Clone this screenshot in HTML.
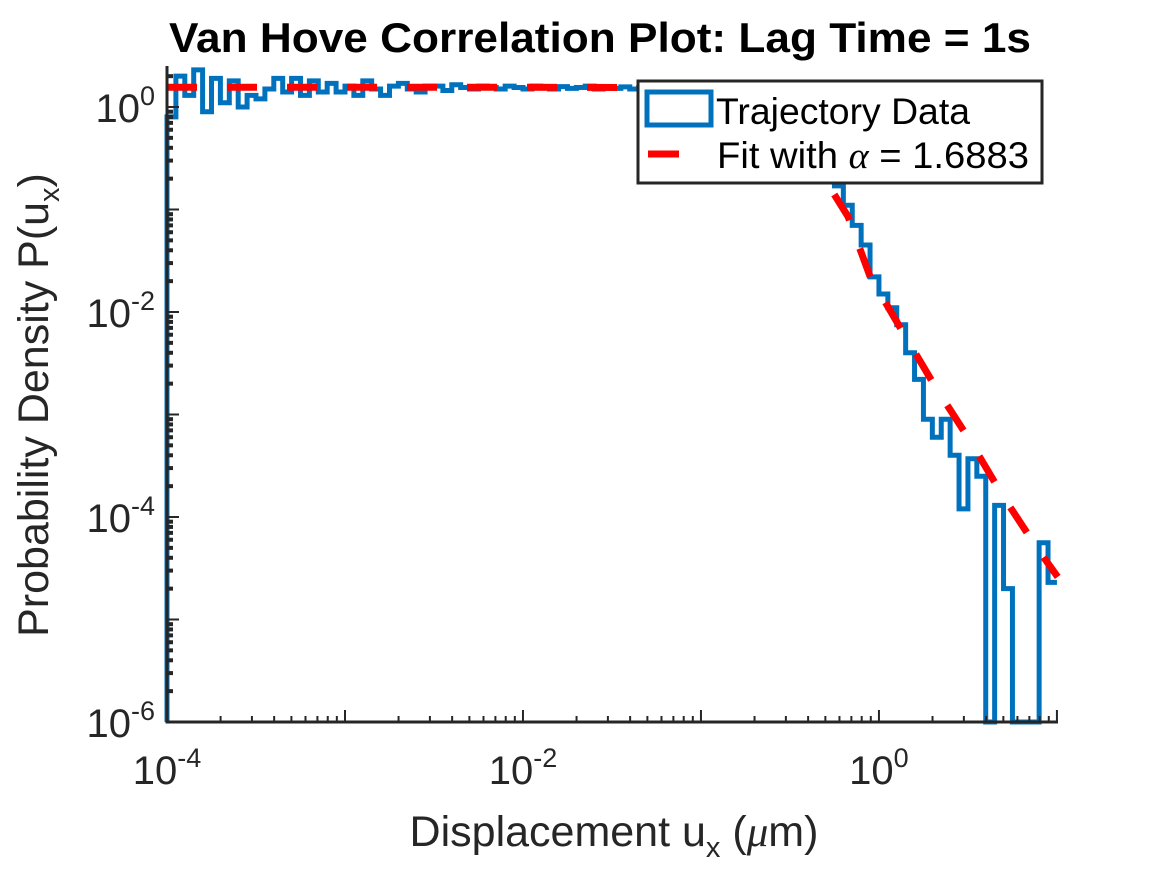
<!DOCTYPE html>
<html><head><meta charset="utf-8"><style>
html,body{margin:0;padding:0;background:#fff;}
svg{display:block;font-family:"Liberation Sans",Arial,sans-serif;}
</style></head><body>
<svg id="chart" width="1167" height="875" viewBox="0 0 1167 875">
<text x="600" y="52" text-anchor="middle" font-size="42" font-weight="bold" fill="#000" textLength="862" lengthAdjust="spacingAndGlyphs">Van Hove Correlation Plot: Lag Time = 1s</text>
<g id="plot"></g>
<g id="axes"></g>
<text x="614" y="846" text-anchor="middle" font-size="43" fill="#262626">Displacement u<tspan font-size="29" dy="11">x</tspan><tspan dy="-11"> (</tspan><tspan font-family="Liberation Serif" font-style="italic">μ</tspan>m)</text>
<text transform="translate(48,405) rotate(-90)" text-anchor="middle" font-size="43" fill="#262626">Probability Density P(u<tspan font-size="29" dy="11">x</tspan><tspan dy="-11">)</tspan></text>
<g>
<rect x="638" y="81" width="404" height="102" fill="#fff" stroke="#262626" stroke-width="3"/>
<rect x="647" y="92" width="64" height="33" fill="none" stroke="#0072BD" stroke-width="5"/>
<text x="716" y="124" font-size="37" fill="#000" textLength="254" lengthAdjust="spacingAndGlyphs">Trajectory Data</text>
<line x1="648" y1="154" x2="679" y2="154" stroke="#FF0000" stroke-width="7"/>
<text x="717" y="168" font-size="37" fill="#000" textLength="312" lengthAdjust="spacingAndGlyphs">Fit with <tspan font-family="Liberation Serif" font-style="italic">α</tspan> = 1.6883</text>
</g>
</svg>
<script>
const binLogStart = -4;
const binLogWidth = 0.05;
const histValues = [0.8,2.0,1.3,2.3,0.9,1.9,1.1,1.8,1.0,1.3,1.2,1.5,1.9,1.4,1.9,1.3,1.8,1.4,1.7,1.4,
1.6,1.3,1.8,1.5,1.3,1.6,1.7,1.5,1.4,1.6,1.6,1.45,1.65,1.55,1.5,1.6,1.55,1.5,1.6,1.55,
1.5,1.6,1.55,1.5,1.58,1.52,1.55,1.6,1.5,1.55,1.52,1.57,1.5,1.55,1.53,1.56,1.5,1.55,1.52,1.55,
1.53,1.55,1.5,1.54,1.52,1.5,1.5,1.5,1.45,1.3,1.1,0.85,0.6,0.4,0.25,0.17,0.11,0.07,0.045,0.022,
0.015,0.011,0.0075,0.004,0.0022,0.0009,0.0006,0.0009,0.0004,0.00012,0.00037,0.00025,0,0.00013,0.00002,0,0,0,0.000056,0.000023];
const fitU = [0.0001,0.01,0.1,0.2,0.3,0.4,0.53,0.67,0.89,1.36,2.06,3.24,4.97,7.72,10.1];
const fitP = [1.56,1.56,1.54,1.35,0.9,0.4,0.164,0.0855,0.0224,0.0064,0.0019,0.00056,0.00016,0.00005,0.000026];
const xTickLabels = ["-4","-2","0"];
const yTickLabels = ["0","-2","-4","-6"];

const NS="http://www.w3.org/2000/svg";
const X0=167, X1=1058, XL0=-4, XL1=1.006;
const Y0=722, Y1=66, YL0=-6, YL1=0.4;
function xs(u){return X0+(Math.log10(u)-XL0)/(XL1-XL0)*(X1-X0);}
function xl(l){return X0+(l-XL0)/(XL1-XL0)*(X1-X0);}
function ys(p){if(p<=0)return Y0;return Math.min(Y0,Y0-(Math.log10(p)-YL0)/(YL1-YL0)*(Y0-Y1));}
function yl(l){return Y0-(l-YL0)/(YL1-YL0)*(Y0-Y1);}
function mk(tag,attrs,parent){const e=document.createElementNS(NS,tag);for(const k in attrs)e.setAttribute(k,attrs[k]);parent.appendChild(e);return e;}
const plot=document.getElementById('plot'), axes=document.getElementById('axes');

let d="M"+xl(binLogStart)+","+Y0;
histValues.forEach((v,i)=>{
  const a=Math.min(xl(binLogStart+i*binLogWidth),X1), b=Math.min(xl(binLogStart+(i+1)*binLogWidth),X1);
  d+=" L"+a+","+ys(v)+" L"+b+","+ys(v);
});
const hist=mk('path',{d:d,fill:'none',stroke:'#0072BD','stroke-width':5,'stroke-linejoin':'miter'},plot);



const fd=fitU.map((u,i)=>(i?"L":"M")+xs(u)+","+ys(fitP[i])).join(" ");
const fit=mk('path',{d:fd,fill:'none',stroke:'#FF0000','stroke-width':7,'stroke-dasharray':'30 30'},plot);



const ax=mk('path',{d:`M${X0},${Y1} L${X0},${Y0} L${X1},${Y0}`,fill:'none',stroke:'#262626','stroke-width':3},axes);



for(let dec=-4;dec<=1;dec++){
  for(let m=1;m<=9;m++){
    const l=dec+Math.log10(m); if(l>XL1)break;
    const x=xl(l), len=m===1?12:6;
    const t=mk('line',{x1:x,y1:Y0,x2:x,y2:Y0-len,stroke:'#262626','stroke-width':2},axes);
    
    
  }
}
xTickLabels.forEach(s=>{
  const x=xl(+s);
  const t=mk('text',{x:x,y:784,'text-anchor':'middle','font-size':40,fill:'#262626'},axes);
  t.textContent="10";
  const sp=mk('tspan',{'font-size':27,dy:-17},t);sp.textContent=s;
  
  
});
for(let dec=-6;dec<=0;dec++){
  for(let m=1;m<=9;m++){
    const l=dec+Math.log10(m); if(l>YL1)break;
    const y=yl(l), len=m===1?12:6;
    const t=mk('line',{x1:X0,y1:y,x2:X0+len,y2:y,stroke:'#262626','stroke-width':m===1?2:4},axes);
    
    
  }
}
yTickLabels.forEach(s=>{
  const y=yl(+s);
  const t=mk('text',{x:155,y:y+15,'text-anchor':'end','font-size':40,fill:'#262626'},axes);
  t.textContent="10";
  const sp=mk('tspan',{'font-size':27,dy:-17},t);sp.textContent=s;
  
  
});
</script>
</body></html>
